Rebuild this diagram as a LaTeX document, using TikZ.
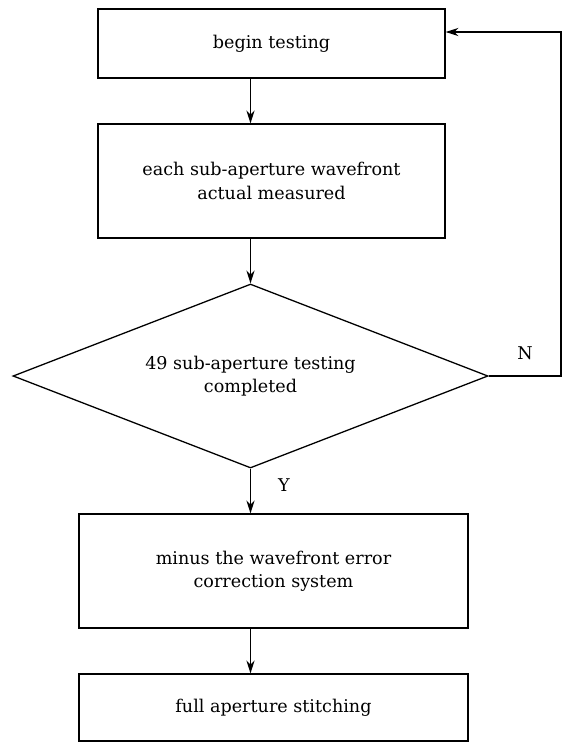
\documentclass[tikz,border=0pt]{standalone}
\usepackage{fontspec}
\setmainfont{DejaVu Serif}
\usetikzlibrary{shapes.geometric,arrows.meta}
\tikzset{
  stepbox/.style={draw, line width=1.1pt, align=center, inner sep=0pt},
  decision/.style={draw, diamond, shape aspect=2.6, line width=1.1pt, align=center, inner sep=0pt},
  flow/.style={-{Stealth[length=11pt,width=7pt,inset=3.5pt]}, line width=1.1pt}
}
\begin{document}
\begin{tikzpicture}[x=0.03cm,y=-0.03cm, font=\fontsize{15}{20}\selectfont]
  \fill[white] (0,0) rectangle (562,743);
  \useasboundingbox (0,0) rectangle (562,743);
  %boxes
  \node[stepbox, minimum width=10.41cm, minimum height=2.07cm] (begin) at (271.5,43.5) {begin testing};
  \node[stepbox, minimum width=10.41cm, minimum height=3.42cm] (measure) at (271.5,181) {each sub-aperture wavefront\\actual measured};
  \node[decision, minimum width=14.25cm, minimum height=5.52cm] (dec) at (250.5,376) {49 sub-aperture testing\\completed};
  \node[stepbox, minimum width=11.67cm, minimum height=3.42cm] (minus) at (273.5,571) {minus the wavefront error\\correction system};
  \node[stepbox, minimum width=11.67cm, minimum height=2.01cm] (stitch) at (273.5,707.5) {full aperture stitching};
  \coordinate (back) at (561,32);
  %frecce
  \draw[flow] (begin.south -| dec.north) -- (measure.north -| dec.north);
  \draw[flow] (measure.south -| dec.north) -- (dec.north);
  \draw[flow] (dec.south) -- (minus.north -| dec.south);
  \draw[flow] (minus.south -| dec.south) -- (stitch.north -| dec.south);
  \draw[flow] (dec.east) -- (dec.east -| back) -- (back) -- (back -| begin.east);
  %labels
  \node (no) at (525,353) {N};
  \node (yes) at (284,485) {Y};
\end{tikzpicture}
\end{document}
